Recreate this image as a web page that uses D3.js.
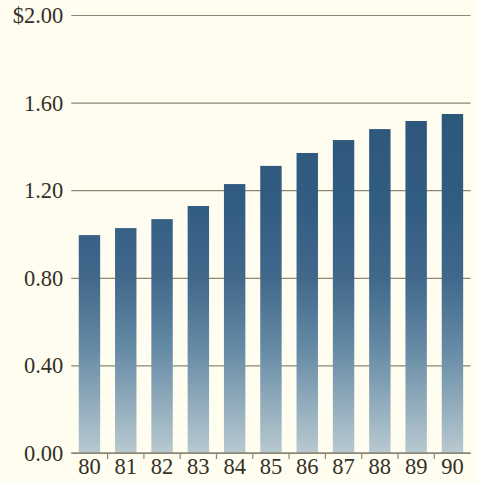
<!DOCTYPE html>
<html>
<head>
<meta charset="utf-8">
<script src="https://cdn.jsdelivr.net/npm/d3@7"></script>
<style>
  html, body { margin: 0; padding: 0; background: #fffdef; }
  svg { display: block; }
  text { font-family: "Liberation Serif", "Times New Roman", serif; fill: #333028; }
</style>
</head>
<body>
<svg id="chart" width="477" height="483"></svg>
<script>
// Yearly values, 1980–1990
const years = ["80", "81", "82", "83", "84", "85", "86", "87", "88", "89", "90"];
const values = [0.995, 1.027, 1.068, 1.128, 1.228, 1.311, 1.37, 1.429, 1.479, 1.516, 1.548];
const yTicks = [0, 0.4, 0.8, 1.2, 1.6, 2.0];
const yTickLabels = ["0.00", "0.40", "0.80", "1.20", "1.60", "$2.00"];

const svg = d3.select("#chart");
const plotLeft = 71.3, plotRight = 470.6, plotTop = 15, plotBottom = 453;
const labelSize = 22.5;

const x = d3.scaleBand().domain(years).range([plotLeft, plotRight])
  .paddingInner(0.41).paddingOuter(0.205);
const y = d3.scaleLinear().domain([0, 2]).range([plotBottom, plotTop]);

// Vertical fade used by every bar, anchored to the plot rather than each bar
const defs = svg.append("defs");
const grad = defs.append("linearGradient")
  .attr("id", "barFade")
  .attr("gradientUnits", "userSpaceOnUse")
  .attr("x1", 0).attr("x2", 0)
  .attr("y1", y(0)).attr("y2", y(1.6));
[[0, "#b8c9d0"], [0.12, "#97b0bf"], [0.3, "#658aa5"], [0.5, "#41688b"], [0.7, "#325d82"], [1, "#2c5779"]]
  .forEach(([o, c]) => grad.append("stop").attr("offset", o).attr("stop-color", c));

// Horizontal grid with value labels
const yAxis = d3.axisLeft(y)
  .tickValues(yTicks)
  .tickSize(-(plotRight - plotLeft))
  .tickPadding(8)
  .tickFormat((d, i) => yTickLabels[i]);

const gy = svg.append("g")
  .attr("transform", `translate(${plotLeft},0)`)
  .call(yAxis);
gy.select(".domain").remove();
gy.selectAll(".tick line").attr("stroke", "#8d8774").attr("stroke-width", 1.2);
gy.selectAll(".tick text")
  .attr("font-size", labelSize)
  .attr("dy", "0.33em")
  .style("font-family", "'Liberation Serif', serif")
  .attr("fill", "#333028");

// Bars
svg.append("g").selectAll("rect")
  .data(values)
  .join("rect")
  .attr("x", (d, i) => x(years[i]))
  .attr("width", x.bandwidth())
  .attr("y", d => y(d))
  .attr("height", d => y(0) - y(d))
  .attr("fill", "url(#barFade)");

// Baseline, separator ticks and year labels
svg.append("line")
  .attr("x1", plotLeft).attr("x2", plotRight)
  .attr("y1", y(0)).attr("y2", y(0))
  .attr("stroke", "#8d8774").attr("stroke-width", 1.3);

const gap = x.step() * x.paddingInner() / 2;
svg.append("g").selectAll("line")
  .data(years.slice(0, -1))
  .join("line")
  .attr("x1", d => x(d) + x.bandwidth() + gap)
  .attr("x2", d => x(d) + x.bandwidth() + gap)
  .attr("y1", y(0)).attr("y2", y(0) + 6)
  .attr("stroke", "#8d8774").attr("stroke-width", 1.2);

const gx = svg.append("g")
  .attr("transform", `translate(0,${plotBottom})`)
  .call(d3.axisBottom(x).tickSize(0).tickPadding(5));
gx.select(".domain").remove();
gx.selectAll(".tick text")
  .attr("font-size", labelSize)
  .style("font-family", "'Liberation Serif', serif")
  .attr("fill", "#333028");
</script>
</body>
</html>
